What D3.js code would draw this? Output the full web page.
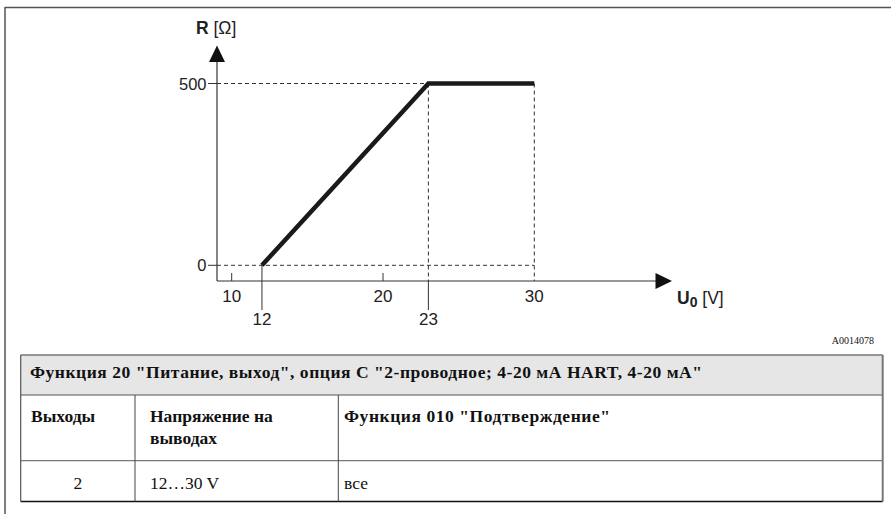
<!DOCTYPE html>
<html>
<head>
<meta charset="utf-8">
<title>R(U0)</title>
<script src="https://d3js.org/d3.v7.min.js"></script>
<style>
  body { margin: 0; background: #fff; }
  svg { display: block; }
  .lbl { font-family: "Liberation Sans", Arial, sans-serif; fill: #222; }
  .tbl { font-family: "Liberation Serif", "Times New Roman", serif; fill: #111; }
</style>
</head>
<body>
<div id="vis"></div>
<script>
// chart data
const xTicks = [10, 20, 30];
const xMarks = [12, 23];
const yTicks = [0, 500];
const uValues = [12, 23, 30];
const rValues = [0, 500, 500];

// table data
const tableTitle = 'Функция 20 "Питание, выход", опция C "2-проводное; 4-20 мА HART, 4-20 мА"';
const tableHeads = [["Выходы"], ["Напряжение на", "выводах"], ['Функция 010 "Подтверждение"']];
const tableRow = ["2", "12…30 V", "все"];
const figId = "A0014078";

const width = 891, height = 514;
const svg = d3.select("#vis").append("svg").attr("width", width).attr("height", height);

// outer frame (top + left)
svg.append("line").attr("x1", 5).attr("x2", width).attr("y1", 7.5).attr("y2", 7.5)
  .attr("stroke", "#555").attr("stroke-width", 1.5);
svg.append("line").attr("x1", 5).attr("x2", 5).attr("y1", 7).attr("y2", height)
  .attr("stroke", "#555").attr("stroke-width", 1.5);

const x = d3.scaleLinear().domain([10, 30]).range([231.7, 534.3]);
const y = d3.scaleLinear().domain([0, 500]).range([265.3, 83.5]);
const ox = 217, oy = 281;

const g = svg.append("g");

// dashed guides
const dash = "4,3";
const guide = (x1, y1, x2, y2, d) => g.append("line")
  .attr("x1", x1).attr("y1", y1).attr("x2", x2).attr("y2", y2)
  .attr("stroke", "#333").attr("stroke-width", 1).attr("stroke-dasharray", d);
guide(ox, y(500), x(23), y(500), dash);
guide(ox, y(0), x(30), y(0), dash);
guide(x(23), y(500), x(23), oy, dash);
guide(x(30), y(500), x(30), oy, dash);
// solid drop lines below axis for 12 and 23
guide(x(12), y(0), x(12), 310, null);
guide(x(23), oy, x(23), 310, null);

// axes
g.append("line").attr("x1", ox).attr("y1", oy).attr("x2", 657).attr("y2", oy)
  .attr("stroke", "#333").attr("stroke-width", 1.2);
g.append("line").attr("x1", ox).attr("y1", oy).attr("x2", ox).attr("y2", 62)
  .attr("stroke", "#333").attr("stroke-width", 1.2);
g.append("path").attr("d", `M672,${oy} L655.5,${oy - 8} L655.5,${oy + 8} Z`).attr("fill", "#111");
g.append("path").attr("d", `M${ox},45.5 L${ox - 8},62 L${ox + 8},62 Z`).attr("fill", "#111");

// y ticks
yTicks.forEach(v => {
  g.append("line").attr("x1", 208).attr("x2", ox).attr("y1", y(v)).attr("y2", y(v))
    .attr("stroke", "#333").attr("stroke-width", 1);
  g.append("text").attr("class", "lbl").attr("x", 206.5).attr("y", y(v) + 6)
    .attr("text-anchor", "end").attr("font-size", 16.5).text(v);
});

// x ticks
xTicks.forEach(v => {
  if (v !== 30) {
    g.append("line").attr("x1", x(v)).attr("x2", x(v)).attr("y1", 273).attr("y2", oy)
      .attr("stroke", "#333").attr("stroke-width", 1);
  }
  g.append("text").attr("class", "lbl").attr("x", x(v)).attr("y", 301.5)
    .attr("text-anchor", "middle").attr("font-size", 17).text(v);
});
xMarks.forEach(v => {
  g.append("text").attr("class", "lbl").attr("x", x(v)).attr("y", 325)
    .attr("text-anchor", "middle").attr("font-size", 17).text(v);
});

// curve
const pts = uValues.map((u, i) => [x(u), y(rValues[i])]);
g.append("path").attr("d", d3.line()(pts)).attr("fill", "none")
  .attr("stroke", "#1a1a1a").attr("stroke-width", 4.5).attr("stroke-linejoin", "miter");

// axis titles
const rt = g.append("text").attr("class", "lbl").attr("x", 196).attr("y", 34).attr("font-size", 17.5);
rt.append("tspan").attr("font-weight", "bold").text("R");
rt.append("tspan").text(" [Ω]");
const ut = g.append("text").attr("class", "lbl").attr("x", 677).attr("y", 303.5).attr("font-size", 17.5);
ut.append("tspan").attr("font-weight", "bold").text("U");
ut.append("tspan").attr("font-weight", "bold").attr("font-size", 14).attr("dy", 3).text("0");
ut.append("tspan").attr("dy", -3).text(" [V]");

svg.append("text").attr("class", "tbl").attr("x", 874).attr("y", 344)
  .attr("text-anchor", "end").attr("font-size", 10).text(figId);

// table
const tL = 20.7, tR = 882.7, tT = 355, r1 = 395, r2 = 460.7, tB = 501.5;
const cols = [tL, 135, 338.3, tR];
const fs = 17.5;
const tg = svg.append("g");
tg.append("rect").attr("x", tL).attr("y", tT).attr("width", tR - tL).attr("height", r1 - tT)
  .attr("fill", "#e6e6e6");
const hl = (yy, c, w) => tg.append("line").attr("x1", tL).attr("x2", tR).attr("y1", yy).attr("y2", yy)
  .attr("stroke", c).attr("stroke-width", w);
hl(tT, "#777", 1.5);
hl(r1, "#555", 1.2);
hl(r2, "#777", 1.2);
hl(tB, "#111", 1.5);
tg.append("line").attr("x1", tL).attr("x2", tL).attr("y1", tT).attr("y2", tB).attr("stroke", "#555").attr("stroke-width", 1.2);
tg.append("line").attr("x1", tR).attr("x2", tR).attr("y1", tT).attr("y2", tB).attr("stroke", "#777").attr("stroke-width", 2);
[cols[1], cols[2]].forEach(cx => tg.append("line").attr("x1", cx).attr("x2", cx)
  .attr("y1", r1).attr("y2", tB).attr("stroke", "#444").attr("stroke-width", 1));

tg.append("text").attr("class", "tbl").attr("x", 30).attr("y", 378)
  .attr("font-size", fs).attr("font-weight", "bold")
  .attr("textLength", 672).attr("lengthAdjust", "spacing").text(tableTitle);

const headX = [31, 150, 344];
tableHeads.forEach((lines, i) => {
  lines.forEach((s, j) => {
    const t = tg.append("text").attr("class", "tbl").attr("x", headX[i]).attr("y", 422 + j * 21.7)
      .attr("font-size", fs).attr("font-weight", "bold").text(s);
    if (i === 2) t.attr("textLength", 266).attr("lengthAdjust", "spacing");
  });
});

tableRow.forEach((s, i) => {
  const t = tg.append("text").attr("class", "tbl").attr("y", 488.5).attr("font-size", fs).text(s);
  if (i === 0) t.attr("x", (cols[0] + cols[1]) / 2).attr("text-anchor", "middle");
  else t.attr("x", headX[i]);
});
</script>
</body>
</html>
